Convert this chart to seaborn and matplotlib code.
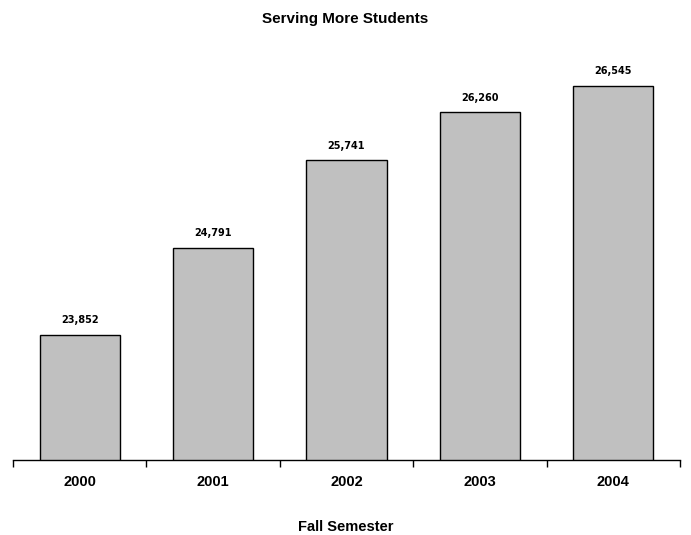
import matplotlib
matplotlib.use("Agg")
import matplotlib.pyplot as plt
import seaborn as sns
import pandas as pd

years = ["2000", "2001", "2002", "2003", "2004"]
students = [23852, 24791, 25741, 26260, 26545]
value_labels = ["23,852", "24,791", "25,741", "26,260", "26,545"]

sns.set_theme(style="white")
plt.rcParams['font.family'] = ['Liberation Sans', 'DejaVu Sans']
plt.rcParams['text.color'] = 'black'
plt.rcParams['xtick.color'] = 'black'
plt.rcParams['axes.labelcolor'] = 'black'

df = pd.DataFrame({"year": years, "students": students})

fig = plt.figure(figsize=(6.91, 5.35), dpi=100)
ax = fig.add_axes([13/691, 75/535, 667/691, (460-44)/535])

sns.barplot(data=df, x="year", y="students", color="#C0C0C0", width=0.6,
            edgecolor="black", linewidth=1, saturation=1, ax=ax)

ax.set_ylim(22500, 27000)
ax.set_xlim(-0.5, 4.5)

for i, (v, lab) in enumerate(zip(students, value_labels)):
    ax.annotate(lab, (i, v), xytext=(0, 7), textcoords="offset points",
                ha="center", va="bottom", fontsize=7, fontweight="bold",
                family=["DejaVu Sans"], color="black")

for s in ["top", "right", "left"]:
    ax.spines[s].set_visible(False)
ax.spines["bottom"].set_color("black")
ax.spines["bottom"].set_linewidth(1)
ax.set_yticks([])
ax.set_ylabel("")

ax.set_xticks([-0.5, 0.5, 1.5, 2.5, 3.5, 4.5], minor=True)
ax.tick_params(axis="x", which="minor", bottom=True, length=5, width=1, color="black", direction="out")
ax.tick_params(axis="x", which="major", bottom=False, length=0, pad=11, labelcolor="black")
for t in ax.get_xticklabels():
    t.set_fontweight("bold")
    t.set_fontsize(10.5)

ax.set_xlabel("")
fig.text(0.5, 1 - 527/535, "Fall Semester", ha="center", va="center",
         fontsize=10.5, fontweight="bold", color="black")
fig.text(0.5, 1 - 19/535, "Serving More Students", ha="center", va="center",
         fontsize=11, fontweight="bold", color="black")

fig.savefig("out.png", dpi=100)
